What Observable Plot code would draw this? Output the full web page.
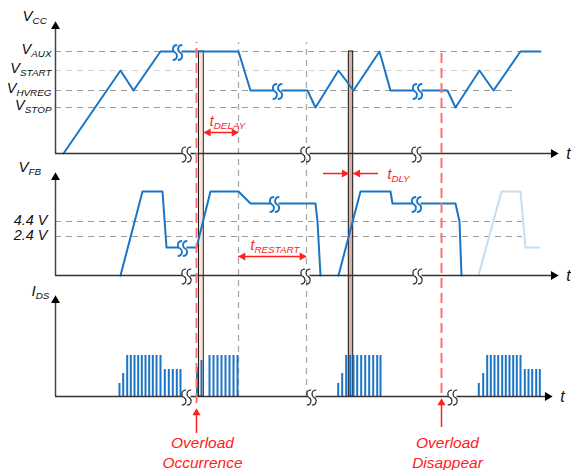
<!DOCTYPE html>
<html><head><meta charset="utf-8">
<script src="https://cdn.jsdelivr.net/npm/d3@7"></script>
<script src="https://cdn.jsdelivr.net/npm/@observablehq/plot@0.6"></script>
<style>body{margin:0;background:#fff}#chart{width:571px;height:470px}</style>
</head><body><div id="chart"></div>
<script>
// ---------- DATA ----------
// VCC trace (time units, named level)
const vccLevelNames = ["0","V_STOP","V_HVREG","V_START","V_AUX"];
const vccLevelValues = [0,46,63,83,102];
const vccT = [8,65,78,105,183,195,252,260,283,298,324,335,392,400,424,438,465,485];
const vccV = ["0","V_START","V_HVREG","V_AUX","V_AUX","V_HVREG","V_HVREG","V_STOP","V_START","V_HVREG","V_AUX","V_HVREG","V_HVREG","V_STOP","V_START","V_HVREG","V_AUX","V_AUX"];

// VFB trace (two restart cycles)
const vfbLevelNames = ["0","LOW","2.4 V","4.4 V","MID","HIGH"];
const vfbLevelValues = [0,28,39,54,72,84];
const vfbT = [65,87,107,111,141,155,183,195,260,262,265,283,305,335,337,400,404,406];
const vfbV = ["0","HIGH","HIGH","LOW","LOW","HIGH","HIGH","MID","MID","4.4 V","0","0","HIGH","HIGH","MID","MID","4.4 V","0"];
const vfbCycle = [0,0,0,0,0,0,0,0,0,0,0,1,1,1,1,1,1,1];
const vfbNextT = [423,446,465,470,484];
const vfbNextV = ["0","HIGH","HIGH","LOW","LOW"];

// IDS switching pulses
const idsLevelNames = ["ramp1","ramp2","light","soft1","soft2","full"];
const idsLevelValues = [13,23,27,29,36,41];
const idsT = [64,67.7,71.7,75.3,79,82.7,86.3,90,93.7,97.3,101,105,109.3,113.3,117.3,121.3,125,
  141.5,146,154,158,162,166,170,174,178,182,
  282.7,286.7,290.7,294.7,298,301.7,305.7,309.7,313.7,317.7,321.7,325,
  423.3,427.7,431.7,435.3,439,442.7,446.7,450.3,454,457.7,461.3,465,469.3,473,476.7,480.7,484.3];
const idsV = ["ramp1","ramp2","full","full","full","full","full","full","full","full","full","full","light","light","light","light","light",
  "soft1","soft2","full","full","full","full","full","full","full","full",
  "ramp1","ramp2","full","full","full","full","full","full","full","full","full","full",
  "ramp1","ramp2","full","full","full","full","full","full","full","full","full","full","light","light","light","light","light"];

// Reference levels drawn as dashed lines
const refPanel = ["VCC","VCC","VCC","VCC","VFB","VFB"];
const refLevel = ["V_AUX","V_START","V_HVREG","V_STOP","4.4 V","2.4 V"];
const refEnd = [465,458,462,462,467,467];
const refLabelText = ["V_AUX","V_START","V_HVREG","V_STOP","4.4 V","2.4 V"];

// Events
const overloadT = [141,386];
const overloadText = ["Overload\nOccurrence","Overload\nDisappear"];
const restartMarksT = [183,251];
const windowStart = [143.5,293.3];
const windowEnd = [148.3,297.7];

// break marks
const traceBreakPanel = ["VCC","VCC","VCC","VFB","VFB","VFB"];
const traceBreakT = [122,222,362,127,219,361];
const traceBreakLevel = ["V_AUX","V_HVREG","V_HVREG","LOW","MID","MID"];
const axisBreakPanel = ["VCC","VCC","VCC","VFB","VFB","VFB","IDS","IDS","IDS"];
const axisBreakT = [131,250,361,131,250,362,131,256,397];

const panelNames = ["VCC","VFB","IDS"];
const panelTitles = ["V_CC","V_FB","I_DS"];

// ---------- LAYOUT ----------
const base = {VCC:317, VFB:195, IDS:74};
const topY = {VCC:449, VFB:298, IDS:175};
const axisEndT = {VCC:503, VFB:503, IDS:497};
const lvl = (names, vals) => Object.fromEntries(names.map((n,i)=>[n,vals[i]]));
const vccL = lvl(vccLevelNames, vccLevelValues);
const vfbL = lvl(vfbLevelNames, vfbLevelValues);
const idsL = lvl(idsLevelNames, idsLevelValues);
const levelOf = (panel, name) => base[panel] + (panel==="VCC" ? vccL[name] : panel==="VFB" ? vfbL[name] : idsL[name]);

const vcc = vccT.map((t,i)=>({t, y: levelOf("VCC", vccV[i])}));
const vfb = vfbT.map((t,i)=>({t, y: levelOf("VFB", vfbV[i]), c: vfbCycle[i]}));
const vfbNext = vfbNextT.map((t,i)=>({t, y: levelOf("VFB", vfbNextV[i])}));
const ids = idsT.map((t,i)=>({t, y1: base.IDS, y2: levelOf("IDS", idsV[i])}));
const refs = refLevel.map((l,i)=>({y: levelOf(refPanel[i], l), end: refEnd[i], light: l==="V_START", label: refLabelText[i], panel: refPanel[i]}));
const traceBreaks = traceBreakT.map((t,i)=>({t, y: levelOf(traceBreakPanel[i], traceBreakLevel[i])}));
const axisBreaks = axisBreakT.map((t,i)=>({t, y: base[axisBreakPanel[i]]}));
const windows = windowStart.map((s,i)=>({s, e: windowEnd[i]}));

const BLUE = "#1a75c6", RED = "#ff2020", FONT = "Liberation Sans, Arial, sans-serif";

// break ("≀≀") symbol drawn as two S-curves
const breakSymbol = {
  draw(ctx) {
    for (const ox of [-2.6, 2.6]) {
      ctx.moveTo(ox + 2.2, -7.5);
      ctx.bezierCurveTo(ox - 3, -7.5, ox - 3, -1.5, ox, 0);
      ctx.bezierCurveTo(ox + 3, 1.5, ox + 3, 7.5, ox - 2.2, 7.5);
    }
  }
};

const yAxes = panelNames.map(p=>({p, y1: base[p], y2: topY[p]}));
const tAxes = panelNames.map(p=>({p, y: base[p], end: axisEndT[p]}));

const chart = Plot.plot({
  width: 571, height: 470, margin: 0,
  x: {domain: [-55, 516], axis: null},
  y: {domain: [0, 470], axis: null},
  style: {fontFamily: FONT, background: "white"},
  marks: [
    Plot.ruleY(refs, {y: "y", x1: 0, x2: "end", stroke: d => d.light ? "#d4d4d4" : "#9a9a9a", strokeWidth: 1.2, strokeDasharray: "6,5"}),
    Plot.ruleX(restartMarksT, {x: d => d, y1: base.IDS, y2: 428, stroke: "#a8a8a8", strokeWidth: 1.3, strokeDasharray: "6,5"}),
    Plot.rect(windows.slice(0,1), {x1: "s", x2: "e", y1: base.IDS, y2: levelOf("VCC","V_AUX"), fill: "#fde3da", stroke: "#222", strokeWidth: 1}),
    Plot.rect(windows.slice(1), {x1: "s", x2: "e", y1: base.IDS, y2: levelOf("VCC","V_AUX"), fill: "#d9b0a8", stroke: "#111", strokeWidth: 1}),
    Plot.line(vfbNext, {x: "t", y: "y", stroke: "#c6ddf0", strokeWidth: 2}),
    Plot.line(vcc, {x: "t", y: "y", stroke: BLUE, strokeWidth: 2}),
    Plot.line(vfb, {x: "t", y: "y", z: "c", stroke: BLUE, strokeWidth: 2}),
    Plot.ruleX(ids, {x: "t", y1: "y1", y2: "y2", stroke: BLUE, strokeWidth: 2}),
    Plot.ruleX(yAxes, {x: 0, y1: "y1", y2: d => d.y2 - 6, stroke: "#444", strokeWidth: 1.5}),
    Plot.ruleY(tAxes, {y: "y", x1: 0, x2: d => d.end - 6, stroke: "#333", strokeWidth: 1.5}),
    Plot.dot(yAxes, {x: 0, y: "y2", symbol: "triangle", r: 3.3, fill: "black", dy: 5}),
    Plot.dot(tAxes, {x: "end", y: "y", symbol: "triangle", r: 3.3, fill: "black", rotate: 90, dx: -5}),
    Plot.ruleX([overloadT[0]], {x: d => d, y1: 67, y2: 428, stroke: "#ff7070", strokeWidth: 2, strokeDasharray: "10,5"}),
    Plot.ruleX([overloadT[1]], {x: d => d, y1: 77, y2: 418, stroke: "#ff7070", strokeWidth: 2, strokeDasharray: "10,5"}),
    Plot.ruleX(overloadT, {x: d => d, y1: (d,i) => i ? 43 : 37, y2: (d,i) => i ? 66 : 56, stroke: RED, strokeWidth: 1.5}),
    Plot.dot(overloadT, {x: d => d, y: (d,i) => i ? 72 : 62, symbol: "triangle", r: 3, fill: RED, dy: 4.5}),
    Plot.dot(axisBreaks, {x: "t", y: "y", symbol: "square", r: 4.5, fill: "white"}),
    Plot.dot(traceBreaks, {x: "t", y: "y", symbol: "square", r: 4.5, fill: "white"}),
    Plot.dot(axisBreaks, {x: "t", y: "y", symbol: breakSymbol, fill: "none", stroke: "#222", strokeWidth: 1.1, dy: 1}),
    Plot.dot(traceBreaks, {x: "t", y: "y", symbol: breakSymbol, fill: "none", stroke: BLUE, strokeWidth: 1.8, dy: 1}),
    Plot.ruleY([{a: windowEnd[0], b: restartMarksT[0], y: base.VCC + 21}], {y: "y", x1: "a", x2: "b", stroke: RED, strokeWidth: 1.5}),
    Plot.dot([{x: windowEnd[0], y: base.VCC + 21}], {x: "x", y: "y", symbol: "triangle", r: 3, fill: RED, rotate: -90, dx: 4.5}),
    Plot.dot([{x: restartMarksT[0], y: base.VCC + 21}], {x: "x", y: "y", symbol: "triangle", r: 3, fill: RED, rotate: 90, dx: -4.5}),
    Plot.ruleY([{a: restartMarksT[0], b: restartMarksT[1], y: base.VFB + 19}], {y: "y", x1: "a", x2: "b", stroke: RED, strokeWidth: 1.5}),
    Plot.dot([{x: restartMarksT[0], y: base.VFB + 19}], {x: "x", y: "y", symbol: "triangle", r: 3, fill: RED, rotate: -90, dx: 4.5}),
    Plot.dot([{x: restartMarksT[1], y: base.VFB + 19}], {x: "x", y: "y", symbol: "triangle", r: 3, fill: RED, rotate: 90, dx: -4.5}),
    Plot.ruleY([{a: 268, b: windowStart[1], y: base.VFB + 102}, {a: windowEnd[1], b: 323, y: base.VFB + 102}], {y: "y", x1: "a", x2: "b", stroke: RED, strokeWidth: 1.5}),
    Plot.dot([{x: windowStart[1], y: base.VFB + 102}], {x: "x", y: "y", symbol: "triangle", r: 3, fill: RED, rotate: 90, dx: -4.5}),
    Plot.dot([{x: windowEnd[1], y: base.VFB + 102}], {x: "x", y: "y", symbol: "triangle", r: 3, fill: RED, rotate: -90, dx: 4.5}),
    Plot.text([{x: windowEnd[0] + 6, y: base.VCC + 32, s: "t_DELAY"}, {x: restartMarksT[0] + 12, y: base.VFB + 30, s: "t_RESTART"}, {x: 332, y: base.VFB + 101, s: "t_DLY"}],
      {x: "x", y: "y", text: "s", textAnchor: "start", fill: RED, fontSize: 14, fontStyle: "italic"}),
    Plot.text(overloadT, {x: d => d + 6, y: 36, text: (d,i) => overloadText[i], lineAnchor: "top", lineHeight: 1.25, fill: RED, fontSize: 15.5, fontStyle: "italic"}),
    Plot.text(refs, {x: d => d.panel === "VCC" ? -4 : -8, y: d => d.y + (d.panel === "VCC" ? 2 : 1), text: "label", textAnchor: "end", fill: "#111", fontSize: 14.5, fontStyle: "italic"}),
    Plot.text(panelNames, {x: (d,i) => [-33,-37,-24][i], y: (d,i) => [454,303,179][i], text: (d,i) => panelTitles[i], textAnchor: "start", fill: "#111", fontSize: 15, fontStyle: "italic"}),
    Plot.text(tAxes, {x: d => d.end + 10, y: "y", text: () => "t", textAnchor: "middle", fill: "#111", fontSize: 16, fontStyle: "italic"})
  ]
});

// render subscripts as tspans
d3.select(chart).selectAll("text").each(function() {
  const s = this.textContent;
  const m = s.match(/^([^_]+)_(.+)$/);
  if (!m || this.querySelector("tspan")) return;
  this.textContent = "";
  const big = parseFloat(getComputedStyle(this).fontSize) || 15;
  d3.select(this).append("tspan").text(m[1]);
  d3.select(this).append("tspan").attr("dy", big * 0.2).attr("font-size", big * 0.66).text(m[2]);
});

document.getElementById("chart").appendChild(chart);
</script>
</body></html>
